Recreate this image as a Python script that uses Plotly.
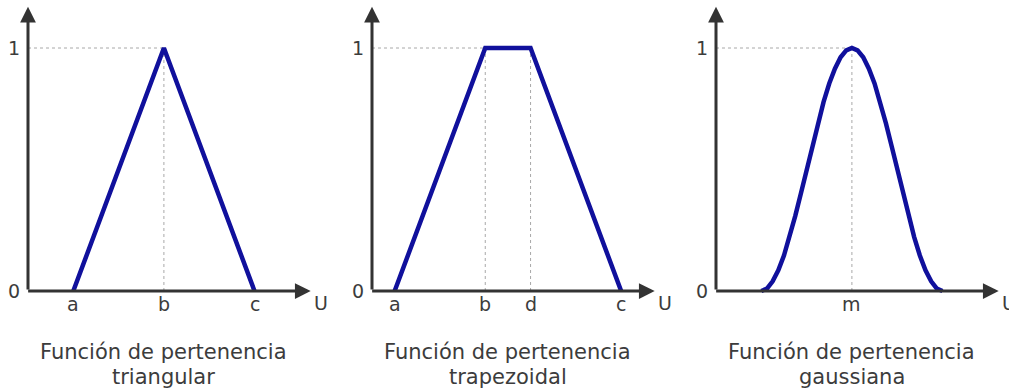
import plotly.graph_objects as go

# ---- data ----
tri_x = [1, 3, 5]
tri_y = [0, 1, 0]
tri_ticks = ["a", "b", "c"]

trap_x = [0.5, 2.5, 3.5, 5.5]
trap_y = [0, 1, 1, 0]
trap_ticks = ["a", "b", "d", "c"]

gauss_x = [1.0, 1.125, 1.25, 1.375, 1.5, 1.625, 1.75, 1.875, 2.0,
           2.125, 2.25, 2.375, 2.5, 2.625, 2.75, 2.875, 3.0,
           3.125, 3.25, 3.375, 3.5, 3.625, 3.75, 3.875, 4.0,
           4.125, 4.25, 4.375, 4.5, 4.625, 4.75, 4.875, 5.0]
gauss_y = [0.0, 0.01, 0.04, 0.085, 0.146, 0.222, 0.309, 0.402, 0.5,
           0.598, 0.691, 0.778, 0.854, 0.915, 0.962, 0.99, 1.0,
           0.99, 0.962, 0.915, 0.854, 0.778, 0.691, 0.598, 0.5,
           0.402, 0.309, 0.222, 0.146, 0.085, 0.04, 0.01, 0.0]
gauss_ticks_x = [3]
gauss_ticks = ["m"]

captions = [["Función de pertenencia", "triangular"],
            ["Función de pertenencia", "trapezoidal"],
            ["Función de pertenencia", "gaussiana"]]

# ---- layout geometry (pixels) ----
W, H = 1009, 389
origins = [28, 372, 716]
y0_px = 291
ux, uy = 45.3, 243
xr = [-0.3, 6.4]
yr = [-0.1, 1.19]
x_tip, y_tip = 6.24, 1.17

BLUE = "#10109c"
AXIS = "#333333"
GUIDE = "#a8a8a8"
TXT = "#3c3c3c"
FONT = "DejaVu Sans"

panels = [
    (tri_x, tri_y, tri_x, tri_ticks, [3]),
    (trap_x, trap_y, trap_x, trap_ticks, [2.5, 3.5]),
    (gauss_x, gauss_y, gauss_ticks_x, gauss_ticks, [3]),
]
peak_guides_h = [3, 2.5, 3]

fig = go.Figure()
annotations = []

for i, (px_, py_, tx, tt, vguides) in enumerate(panels):
    n = "" if i == 0 else str(i + 1)
    xa, ya = "x" + n, "y" + n

    # dotted guides
    fig.add_trace(go.Scatter(x=[0, peak_guides_h[i]], y=[1, 1], mode="lines",
                             line=dict(color=GUIDE, width=1, dash="dot"),
                             xaxis=xa, yaxis=ya, hoverinfo="skip"))
    for g in vguides:
        fig.add_trace(go.Scatter(x=[g, g], y=[0, 1], mode="lines",
                                 line=dict(color=GUIDE, width=1, dash="dot"),
                                 xaxis=xa, yaxis=ya, hoverinfo="skip"))

    # membership function
    fig.add_trace(go.Scatter(x=px_, y=py_, mode="lines",
                             line=dict(color=BLUE, width=4.5),
                             xaxis=xa, yaxis=ya, hoverinfo="skip"))

    ox = origins[i]
    fig.layout["xaxis" + n] = dict(
        domain=[(ox + xr[0] * ux) / W, (ox + xr[1] * ux) / W],
        range=xr, visible=False, anchor=ya)
    fig.layout["yaxis" + n] = dict(
        domain=[(H - (y0_px - yr[0] * uy)) / H, (H - (y0_px - yr[1] * uy)) / H],
        range=yr, visible=False, anchor=xa)

    # axis arrows
    annotations.append(dict(x=0, y=y_tip, ax=0, ay=0, xref=xa, yref=ya,
                            axref=xa, ayref=ya, text="", showarrow=True,
                            arrowhead=2, arrowsize=1.05, arrowwidth=3,
                            arrowcolor=AXIS, standoff=0, startstandoff=0))
    annotations.append(dict(x=x_tip, y=0, ax=-0.03, ay=0, xref=xa, yref=ya,
                            axref=xa, ayref=ya, text="", showarrow=True,
                            arrowhead=2, arrowsize=1.05, arrowwidth=3,
                            arrowcolor=AXIS, standoff=0, startstandoff=0))

    # tick labels
    for xv, lab in zip(tx, tt):
        annotations.append(dict(x=xv, y=0, xref=xa, yref=ya, text=lab,
                                showarrow=False, yanchor="middle", yshift=-13,
                                font=dict(family=FONT, size=19, color=TXT)))
    for yv, lab in [(0, "0"), (1, "1")]:
        annotations.append(dict(x=0, y=yv, xref=xa, yref=ya, text=lab,
                                showarrow=False, xanchor="center", xshift=-14,
                                yanchor="middle",
                                font=dict(family=FONT, size=19, color=TXT)))
    annotations.append(dict(x=x_tip, y=0, xref=xa, yref=ya, text="U",
                            showarrow=False, xanchor="left", xshift=1,
                            yanchor="middle", yshift=-12,
                            font=dict(family=FONT, size=19, color=TXT)))

    # captions
    for line, ypx in zip(captions[i], [352, 377]):
        annotations.append(dict(x=3, y=(H - ypx) / H, xref=xa, yref="paper",
                                text=line, showarrow=False, yanchor="middle",
                                font=dict(family=FONT, size=21, color=TXT)))

fig.update_layout(width=W, height=H, margin=dict(l=0, r=0, t=0, b=0),
                  paper_bgcolor="white", plot_bgcolor="white",
                  showlegend=False, annotations=annotations)

fig.write_html("out.html", config={"displayModeBar": False},
               post_script="document.body.style.margin='0';")
